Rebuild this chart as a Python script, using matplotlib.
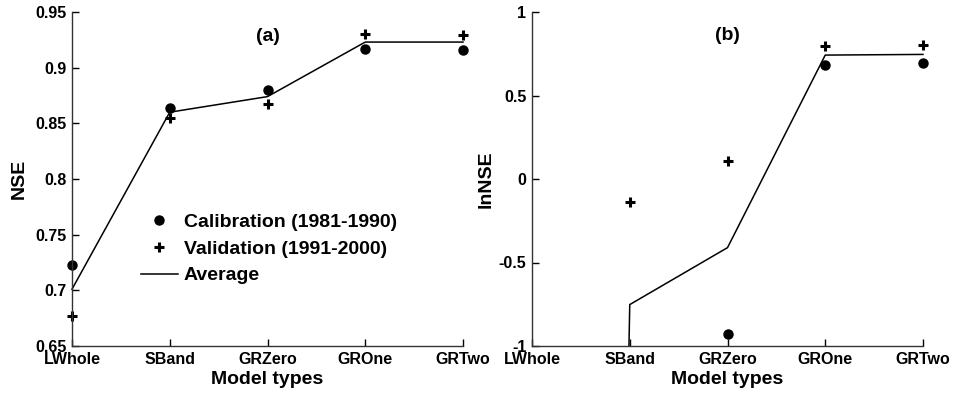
import numpy as np
import matplotlib
matplotlib.use("Agg")
import matplotlib.pyplot as plt
from matplotlib.patches import Rectangle

plt.rcParams['font.family'] = ['Liberation Sans', 'DejaVu Sans']
plt.rcParams['font.weight'] = 'bold'

models = ["LWhole", "SBand", "GRZero", "GROne", "GRTwo"]

# Panel (a): NSE
nse_cal = [0.723, 0.864, 0.880, 0.917, 0.916]
nse_val = [0.677, 0.855, 0.867, 0.930, 0.929]
nse_avg = [0.701, 0.860, 0.874, 0.923, 0.923]

# Panel (b): lnNSE (LWhole and SBand calibration fall far below the axis)
ln_cal = [-55.0, -1.36, -0.928, 0.681, 0.693]
ln_val = [-8.0, -0.140, 0.106, 0.796, 0.800]
ln_avg = [-31.5, -0.752, -0.411, 0.742, 0.746]

x = np.arange(1, len(models) + 1)

fig = plt.figure(figsize=(9.55, 3.93), dpi=100)
axa = fig.add_axes([72/955, 1-346/393, (463-72)/955, (346-12)/393])
axb = fig.add_axes([532/955, 1-346/393, (923-532)/955, (346-12)/393])

def style(ax):
    for s in ['top', 'right']:
        ax.spines[s].set_visible(False)
    for s in ['left', 'bottom']:
        ax.spines[s].set_color('#333333')
        ax.spines[s].set_linewidth(1.0)
    ax.tick_params(direction='in', length=5, width=1, labelsize=11.5, pad=4,
                   colors='black')
    ax.set_xticks(x)
    ax.set_xticklabels(models, fontweight='bold')
    for lbl in ax.get_yticklabels():
        lbl.set_fontweight('bold')
    ax.set_xlim(1, 5)
    ax.set_xlabel("Model types", fontsize=14, fontweight='bold', labelpad=3)

def clip_wide(ax):
    rect = Rectangle((-0.05, 0.0), 1.1, 1.05, transform=ax.transAxes,
                     facecolor='none', edgecolor='none')
    for ln in ax.lines:
        ln.set_clip_path(rect)

# (a)
axa.plot(x, nse_cal, 'o', color='black', markersize=6.5, label='Calibration (1981-1990)')
axa.plot(x, nse_val, '+', color='black', markersize=7.5, markeredgewidth=2.2, label='Validation (1991-2000)')
axa.plot(x, nse_avg, '-', color='black', linewidth=1.1, label='Average')
axa.set_ylim(0.65, 0.95)
axa.set_yticks([0.65, 0.7, 0.75, 0.8, 0.85, 0.9, 0.95])
axa.set_yticklabels(['0.65', '0.7', '0.75', '0.8', '0.85', '0.9', '0.95'])
style(axa)
clip_wide(axa)
axa.set_ylabel("NSE", fontsize=14, fontweight='bold', labelpad=5)
axa.text(3, 0.928, "(a)", ha='center', va='center', fontsize=14, fontweight='bold')
axa.legend(frameon=False, loc='upper left', bbox_to_anchor=(141/955, 1-213/393),
           bbox_transform=fig.transFigure, handlelength=1.9,
           handletextpad=0.3, labelspacing=0.48, borderpad=0, borderaxespad=0,
           prop={'weight': 'bold', 'size': 14})

# (b)
axb.plot(x, ln_cal, 'o', color='black', markersize=6.5)
axb.plot(x, ln_val, '+', color='black', markersize=7.5, markeredgewidth=2.2)
axb.plot(x, ln_avg, '-', color='black', linewidth=1.1)
axb.set_ylim(-1, 1)
axb.set_yticks([-1, -0.5, 0, 0.5, 1])
axb.set_yticklabels(['-1', '-0.5', '0', '0.5', '1'])
style(axb)
clip_wide(axb)
axb.set_ylabel("lnNSE", fontsize=14, fontweight='bold', labelpad=3)
axb.text(3, 0.86, "(b)", ha='center', va='center', fontsize=14, fontweight='bold')

fig.savefig("out.png", dpi=100)
